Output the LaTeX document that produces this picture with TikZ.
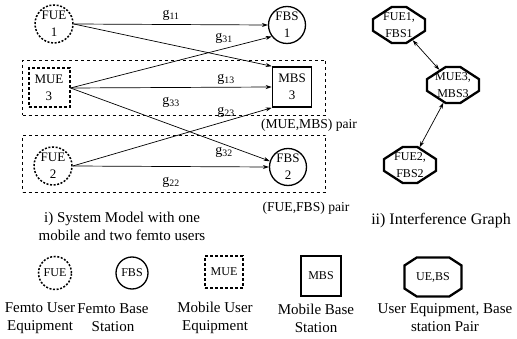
\documentclass[tikz,border=0pt]{standalone}
\usepackage{fontspec}
\setmainfont{Liberation Serif}
\usetikzlibrary{shapes.misc,arrows.meta,calc}
\begin{document}
\begin{tikzpicture}[x=1pt,y=-1pt,
  nodefont/.style={font=\fontsize{13}{17}\selectfont},
  txt/.style={font=\fontsize{15}{18}\selectfont,align=center,inner sep=0pt},
  fue/.style={circle,draw,line width=1.5pt,dash pattern=on 2pt off 1.6pt,minimum size=38pt,inner sep=0pt,align=center,nodefont},
  fbs/.style={circle,draw,line width=1.3pt,minimum size=37pt,inner sep=0pt,align=center,nodefont},
  mue/.style={rectangle,draw,line width=2pt,dash pattern=on 3pt off 2pt,minimum width=41pt,minimum height=39pt,inner sep=0pt,align=center,nodefont},
  mbs/.style={rectangle,draw,line width=1.6pt,minimum width=39pt,minimum height=40pt,inner sep=0pt,align=center,nodefont},
  oct/.style={chamfered rectangle,draw,line width=2.3pt,chamfered rectangle angle=57,chamfered rectangle xsep=14pt,minimum width=52pt,minimum height=36pt,inner xsep=-6pt,inner ysep=0pt,align=center,font=\fontsize{12}{16.5}\selectfont},
  pairbox/.style={rectangle,draw,dashed,line width=0.6pt,inner sep=0pt},
  link/.style={-{Stealth[length=6pt,width=4pt]},line width=0.7pt},
  dlink/.style={{Stealth[length=6pt,width=4pt]}-{Stealth[length=6pt,width=4pt]},line width=0.7pt},
  glab/.style={font=\fontsize{14}{15}\selectfont,inner sep=0pt}]
\useasboundingbox (0,0) rectangle (517,339);
% pair boxes
\node[pairbox,minimum width=303pt,minimum height=55pt] (box1) at (174,87.5) {};
\node[pairbox,minimum width=303pt,minimum height=57pt] (box2) at (174,163.5) {};
% nodes
\node[fue] (FUE1) at (54,24) {FUE\\1};
\node[fbs] (FBS1) at (287,25) {FBS\\1};
\node[mue] (MUE3) at (49,88) {MUE\\3};
\node[mbs] (MBS3) at (292,87) {MBS\\3};
\node[fue] (FUE2) at (53,166) {FUE\\2};
\node[fbs] (FBS2) at (288,167) {FBS\\2};
% links
\draw[link] (FUE1.east) -- (FBS1.west);
\draw[link] (FUE1.east) -- (MBS3.north west);
\draw[link] (MUE3.east) -- (FBS1.217);
\draw[link] (MUE3.east) -- (MBS3.west);
\draw[link] (MUE3.east) -- (FBS2.162);
\draw[link] (FUE2.east) -- (MBS3.south west);
\draw[link] (FUE2.east) -- (FBS2.west);
% gain labels
\node[glab] (l11) at (171,15) {g\textsubscript{11}};
\node[glab] (l31) at (224,38) {g\textsubscript{31}};
\node[glab] (l13) at (226,79) {g\textsubscript{13}};
\node[glab] (l33) at (171,102) {g\textsubscript{33}};
\node[glab] (l23) at (226,112) {g\textsubscript{23}};
\node[glab] (l32) at (224,152) {g\textsubscript{32}};
\node[glab] (l22) at (171,182) {g\textsubscript{22}};
% pair labels
\node[txt,font=\fontsize{13.6}{16}\selectfont] (p1) at (309,125) {(MUE,MBS) pair};
\node[txt,font=\fontsize{13.6}{16}\selectfont] (p2) at (306,208) {(FUE,FBS) pair};
\node[txt] (cap1) at (122,226) {i) System Model with one\\mobile and two femto users};
% interference graph
\node[oct] (O1) at (399,25) {FUE1,\\FBS1};
\node[oct] (O2) at (453,85) {MUE3,\\MBS3};
\node[oct] (O3) at (410,165) {FUE2,\\FBS2};
\draw[dlink] (O1) -- (O2);
\draw[dlink] (O2) -- (O3);
\node[txt,font=\fontsize{16}{18}\selectfont] (cap2) at (441,221) {ii) Interference Graph};
% legend
\node[fue,minimum size=33pt,font=\fontsize{12}{13}\selectfont] (LFUE) at (55,273) {FUE};
\node[fbs,minimum size=32pt,font=\fontsize{12}{13}\selectfont] (LFBS) at (132,273) {FBS};
\node[mue,minimum width=38pt,minimum height=32pt,font=\fontsize{12}{13}\selectfont] (LMUE) at (224,272) {MUE};
\node[mbs,minimum width=40pt,minimum height=40pt,font=\fontsize{12}{13}\selectfont] (LMBS) at (321,276) {MBS};
\node[oct,minimum width=57pt,minimum height=39pt,inner xsep=-2pt,font=\fontsize{12}{13}\selectfont] (LOCT) at (433,277) {UE,BS};
\node[txt] (t1) at (40,318) {Femto User\\Equipment};
\node[txt] (t2) at (113,318) {Femto Base\\Station};
\node[txt] (t3) at (215,318) {Mobile User\\Equipment};
\node[txt] (t4) at (316,318) {Mobile Base\\Station};
\node[txt] (t5) at (445,318) {User Equipment, Base\\station Pair};
\end{tikzpicture}
\end{document}
